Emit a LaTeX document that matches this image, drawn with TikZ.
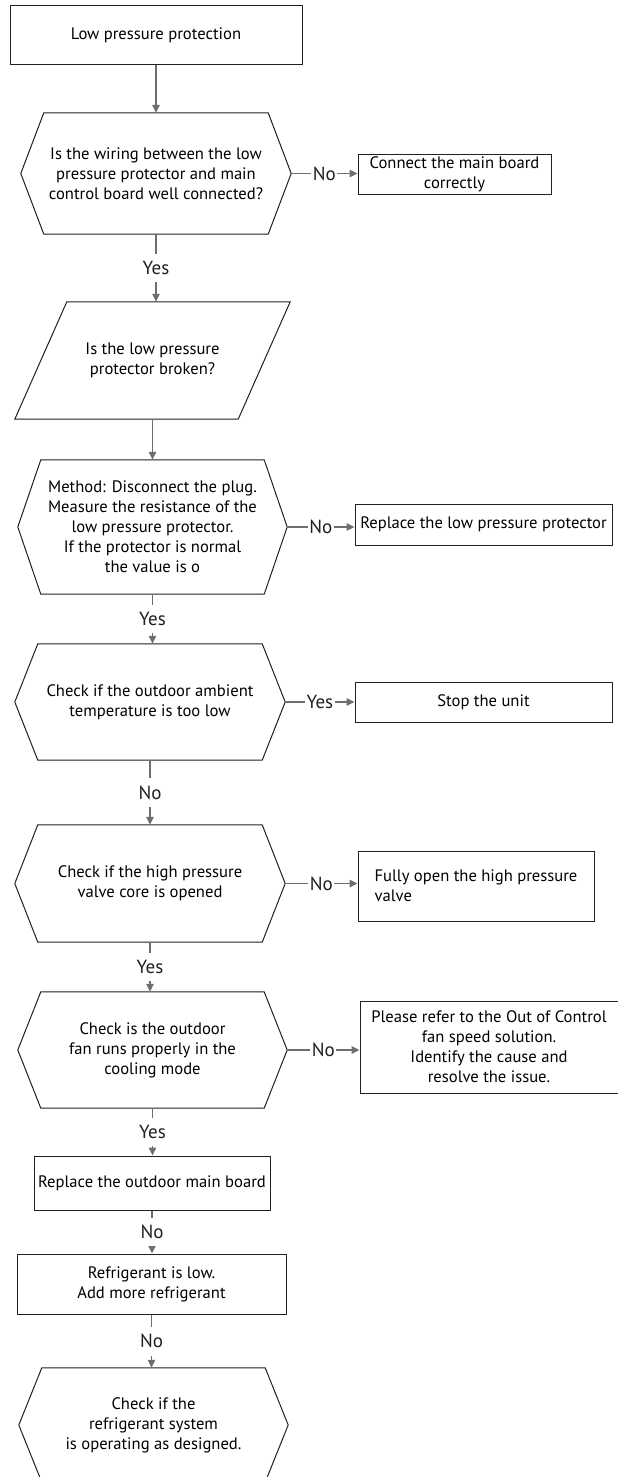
\documentclass[tikz,border=0pt]{standalone}
\usepackage{fontspec}
\setmainfont{PT Sans}
\usepackage{xcolor}
\definecolor{ink}{HTML}{231F20}
\definecolor{wire}{HTML}{6D6E71}
\usetikzlibrary{calc,arrows.meta,positioning}

\begin{document}
\begin{tikzpicture}[x=1pt, y=-1pt, font=\fontsize{16.6}{20}\selectfont,
		box/.style={draw=ink, line width=1pt, align=center, inner sep=0pt},
		chk/.style={align=center, inner sep=0pt},
		flow/.style={draw=wire, line width=1.3pt, -{Triangle[length=8pt,width=7.5pt]}},
		lab/.style={fill=white, text=ink, font=\fontsize{19}{20}\selectfont, inner xsep=1.5pt, inner ysep=7.5pt}]
			\useasboundingbox (0,0) rectangle (618,1477);

			% Start
			\node[box, minimum width=292pt, minimum height=59pt] (start) at (156,35.5) {Low pressure protection};

			% Checks, outlines drawn round them further down
			\node[chk, minimum width=224pt, minimum height=121pt] (q1) at (156,173.5)
				{Is the wiring between the low\\pressure protector and main\\control board well connected?};
			\node[chk, minimum width=223pt, minimum height=117pt] (p) at (152.5,360.5)
				{Is the low pressure\\protector broken?};
			\node[chk, minimum width=223pt, minimum height=134pt] (q2) at (152.5,527)
				{Method: Disconnect the plug.\\Measure the resistance of the\\low pressure protector.\\If the protector is normal\\the value is o};
			\node[chk, minimum width=224pt, minimum height=116pt] (q3) at (150,702)
				{Check if the outdoor ambient\\temperature is too low};
			\node[chk, minimum width=224pt, minimum height=117pt] (q4) at (150,883.5)
				{Check if the high pressure\\valve core is opened};
			\node[chk, minimum width=223pt, minimum height=116pt] (q5) at (152.5,1050)
				{Check is the outdoor\\fan runs properly in the\\cooling mode};
			\node[chk, minimum width=223pt, minimum height=114pt] (q6) at (153.5,1425)
				{Check if the\\refrigerant system\\is operating as designed.};

			% Actions
			\node[box, minimum width=193pt, minimum height=40pt] (a1) at (454.5,174) {Connect the main board\\correctly};
			\node[box, minimum width=257pt, minimum height=41pt] (a2) at (483.5,524.5) {Replace the low pressure protector};
			\node[box, minimum width=257pt, minimum height=40pt] (a3) at (483.5,702) {Stop the unit};
			\node[box, minimum width=236pt, minimum height=70pt, align=left] (a4) at (476,886)
				{Fully open the high pressure\\valve};
			\node[box, minimum width=258pt, minimum height=92pt] (a5) at (489,1047)
				{Please refer to the Out of Control\\fan speed solution.\\Identify the cause and\\resolve the issue.};
			\node[box, minimum width=236pt, minimum height=54pt] (a6) at (152,1183) {Replace the outdoor main board};
			\node[box, minimum width=269pt, minimum height=60pt] (a7) at (151.5,1284) {Refrigerant is low.\\Add more refrigerant};

			% Hexagon outlines
			\foreach \n in {q1,q2,q3,q4,q5,q6}{
				\coordinate (\n-r) at ($(\n.east)+(23,0)$);
				\coordinate (\n-l) at ($(\n.west)-(23,0)$);
				\draw[ink, line width=1pt] (\n.north west) -- (\n.north east) -- (\n-r)
					-- (\n.south east) -- (\n.south west) -- (\n-l) -- cycle;
			}
			% Parallelogram
			\draw[ink, line width=1pt] ($(p.north west)+(26,0)$) -- ($(p.north east)+(26,0)$)
				-- ($(p.south east)-(26,0)$) -- ($(p.south west)-(26,0)$) -- cycle;

			% Connectors
			\draw[flow] (start.south) -- (start.south |- q1.north);
			\draw[flow] (q1.south) -- node[lab] {Yes} (q1.south |- p.north);
			\draw[flow] (q1-r) -- node[lab] {No} (q1-r -| a1.west);
			\draw[flow] (p.south) -- (p.south |- q2.north);
			\draw[flow] (q2-r) -- node[lab] {No} (q2-r -| a2.west);
			\draw[flow] (q2.south) -- node[lab] {Yes} (q2.south |- q3.north);
			\draw[flow] (q3-r) -- node[lab] {Yes} (q3-r -| a3.west);
			\draw[flow] (q3.south) -- node[lab] {No} (q3.south |- q4.north);
			\draw[flow] (q4-r) -- node[lab] {No} (q4-r -| a4.west);
			\draw[flow] (q4.south) -- node[lab] {Yes} (q4.south |- q5.north);
			\draw[flow] (q5-r) -- node[lab] {No} (q5-r -| a5.west);
			\draw[flow] (q5.south) -- node[lab] {Yes} (q5.south |- a6.north);
			\draw[flow] (a6.south) -- node[lab] {No} (a6.south |- a7.north);
			\draw[flow] (a7.south) -- node[lab] {No} (a7.south |- q6.north);
		\end{tikzpicture}
\end{document}
